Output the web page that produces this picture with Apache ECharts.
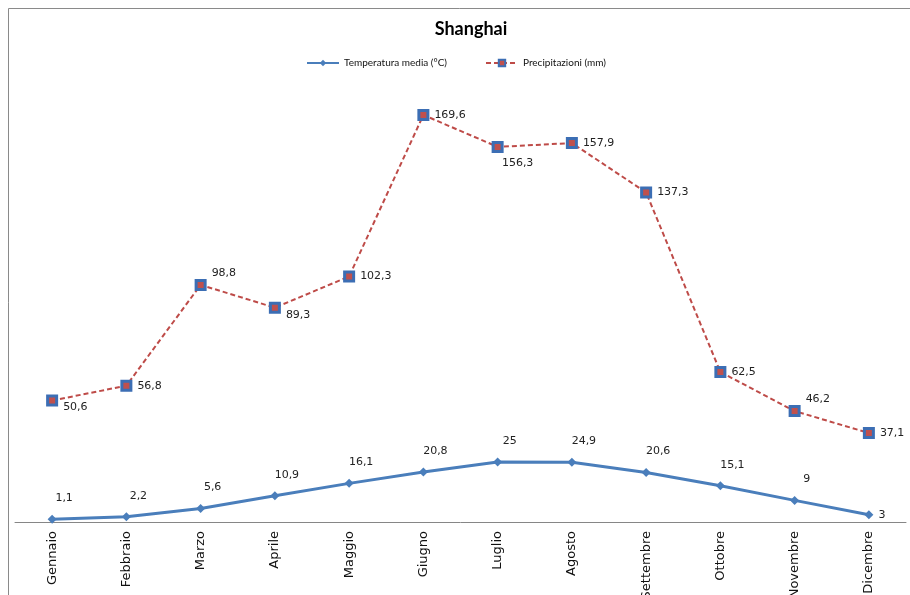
<!DOCTYPE html>
<html>
<head>
<meta charset="utf-8">
<script src="https://cdn.jsdelivr.net/npm/echarts@6/dist/echarts.min.js"></script>
<style>
  html, body { margin: 0; padding: 0; background: #fff; }
  #chart { width: 910px; height: 595px; }
</style>
</head>
<body>
<div id="chart"></div>
<script>
const months = ['Gennaio', 'Febbraio', 'Marzo', 'Aprile', 'Maggio', 'Giugno',
  'Luglio', 'Agosto', 'Settembre', 'Ottobre', 'Novembre', 'Dicembre']
const temperature = [1.1, 2.2, 5.6, 10.9, 16.1, 20.8, 25, 24.9, 20.6, 15.1, 9, 3]
const precipitation = [50.6, 56.8, 98.8, 89.3, 102.3, 169.6, 156.3, 157.9, 137.3, 62.5, 46.2, 37.1]

// where each label sits next to its point
const tempLabelPlace = ['above', 'above', 'above', 'above', 'above', 'above',
  'above', 'above', 'above', 'above', 'above', 'right']
const precLabelPlace = ['rightDown', 'right', 'rightUp', 'rightDown', 'right', 'right',
  'below', 'right', 'right', 'right', 'rightUp', 'right']

const places = {
  right: { position: 'right', offset: [0, 0] },
  rightUp: { position: 'right', offset: [0, -12] },
  rightDown: { position: 'right', offset: [0, 7] },
  above: { position: 'top', offset: [12, -6] },
  below: { position: 'bottom', offset: [20, 0] },
}

const fmt = (v) => String(v).replace('.', ',')

const toData = (values, placement) => values.map((v, i) => ({
  value: v,
  label: places[placement[i]],
}))

const labelStyle = {
  show: true,
  fontFamily: 'DejaVu Sans',
  fontSize: 11,
  color: '#222',
  formatter: (p) => fmt(p.value),
}

const chart = echarts.init(document.getElementById('chart'))

chart.setOption({
  animation: false,
  title: {
    text: 'Shanghai',
    left: 466,
    top: 15,
    textAlign: 'center',
    textStyle: {
      fontFamily: 'Lato',
      fontWeight: 'bold',
      fontSize: 18,
      color: '#000',
    },
  },
  legend: {
    top: 53,
    left: 301,
    itemWidth: 32,
    itemHeight: 8,
    itemGap: 38,
    textStyle: {
      fontFamily: 'Lato',
      fontSize: 10,
      color: '#111',
    },
    data: ['Temperatura media (°C)', 'Precipitazioni (mm)'],
  },
  graphic: [
    {
      type: 'rect',
      shape: { x: 8.5, y: 8.5, width: 940, height: 640 },
      style: { fill: 'none', stroke: '#8a8a8a', lineWidth: 1 },
      silent: true,
    },
  ],
  grid: {
    left: 15,
    right: 4,
    top: 90,
    bottom: 73,
    outerBoundsMode: 'none',
  },
  xAxis: {
    type: 'category',
    data: months,
    boundaryGap: true,
    axisLine: { lineStyle: { color: '#868686', width: 1 } },
    axisTick: { show: false },
    axisLabel: {
      rotate: 90,
      interval: 0,
      margin: 9,
      fontFamily: 'DejaVu Sans',
      fontSize: 13,
      color: '#111',
    },
  },
  yAxis: {
    type: 'value',
    min: 0,
    max: 180,
    show: false,
    splitLine: { show: false },
  },
  series: [
    {
      name: 'Temperatura media (°C)',
      type: 'line',
      data: toData(temperature, tempLabelPlace),
      symbol: 'diamond',
      symbolSize: 9,
      lineStyle: { color: '#4a7ebb', width: 3 },
      itemStyle: { color: '#4a7ebb' },
      label: labelStyle,
      z: 2,
    },
    {
      name: 'Precipitazioni (mm)',
      type: 'line',
      data: toData(precipitation, precLabelPlace),
      symbol: 'rect',
      symbolSize: 9,
      lineStyle: { color: '#be4b48', width: 2, type: [5, 3] },
      itemStyle: { color: '#c0504d', borderColor: '#3c6eb4', borderWidth: 3 },
      label: labelStyle,
      z: 3,
    },
  ],
})
</script>
</body>
</html>
